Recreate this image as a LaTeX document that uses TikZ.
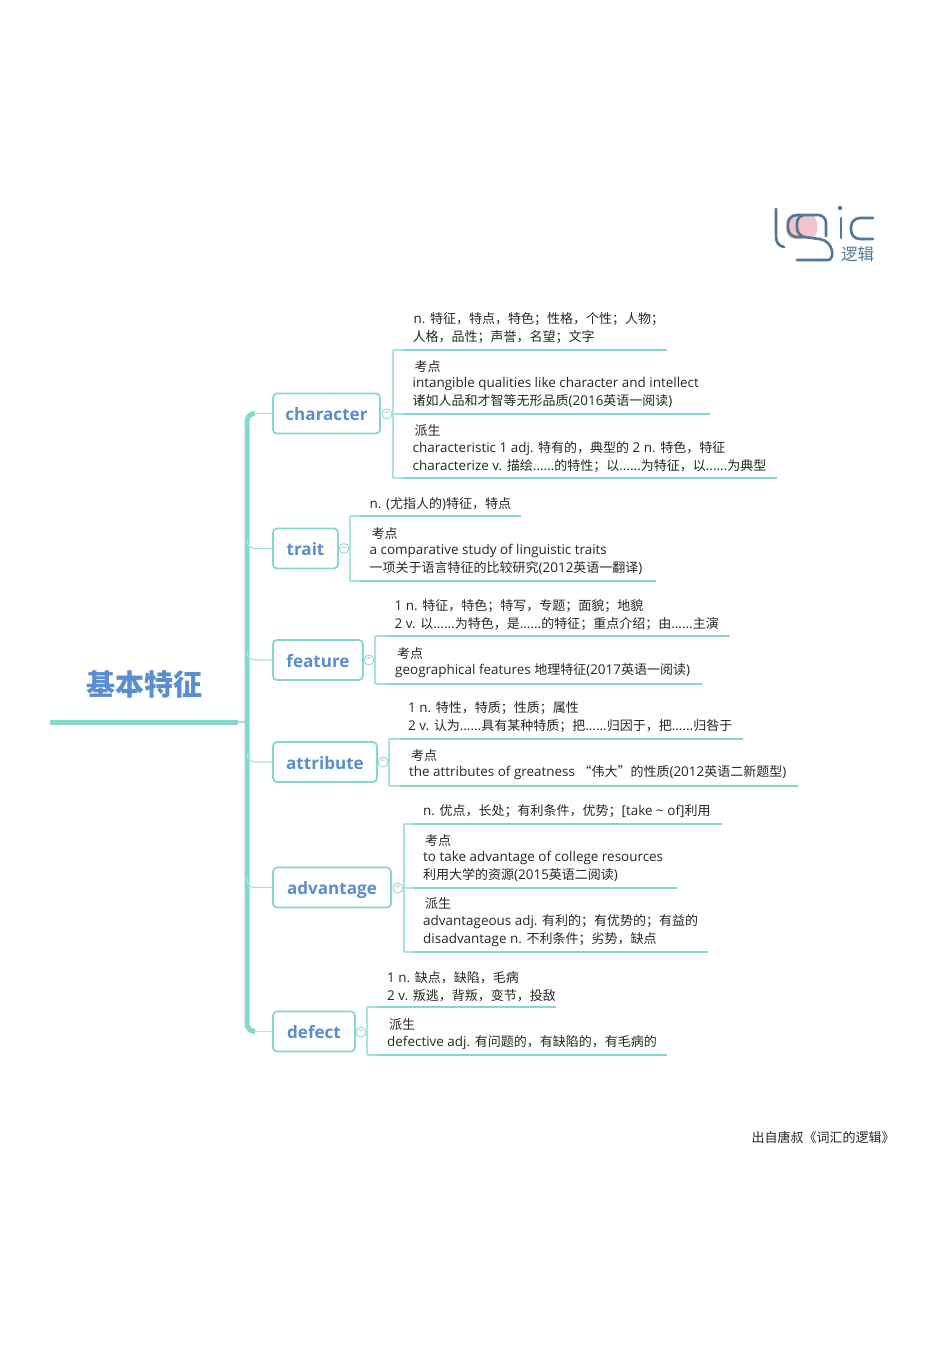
\documentclass[tikz,border=0pt]{standalone}
\usepackage{fontspec}
\setmainfont{Open Sans}[Scale=1.035]
\newfontfamily\zhfont{Noto Sans CJK SC}
\newcommand{\zh}[1]{{\zhfont #1}}
\usepackage{tikz}
\definecolor{tealline}{HTML}{86D8CF}
\definecolor{teallight}{HTML}{A8E3DC}
\definecolor{wordblue}{HTML}{5B8DD2}
\definecolor{logoblue}{HTML}{4F7898}
\definecolor{logopink}{HTML}{F2C4CB}
\definecolor{notegray}{HTML}{262626}
\tikzset{
    wordbox/.style={draw=tealline, line width=1.8pt, rounded corners=4pt, fill=white, minimum height=40pt, inner sep=0pt, text height=14pt, text depth=0pt, text=wordblue, font=\fontsize{16.5}{20}\selectfont\bfseries},
    notetext/.style={anchor=west, inner sep=0pt, align=left, text=notegray, font=\fontsize{13}{18}\selectfont},
    collapse/.style={circle, draw=tealline, line width=0.8pt, fill=white, minimum size=10pt, inner sep=0pt, text=gray, font=\fontsize{8}{8}\selectfont},
    spine/.style={draw=tealline, line width=5pt, rounded corners=8pt},
    branch/.style={draw=teallight, line width=1.2pt, rounded corners=8pt},
    bracketline/.style={draw=teallight, line width=1.4pt},
    noteline/.style={draw=tealline, line width=2pt},
    logostroke/.style={draw=logoblue, line width=2.6pt, line cap=round}
}
\begin{document}
\begin{tikzpicture}[x=1pt, y=-1pt]
    \useasboundingbox (0,0) rectangle (950,1345);

    % Logo
    \fill[logopink, rounded corners=9pt] (786,214) rectangle (817,239);
    \draw[logostroke] (776,209) -- (776,236) .. controls (776,243) and (779,246) .. (784,247);
    \draw[logostroke, rounded corners=9pt] (804,215) -- (788,215) -- (788,237) -- (803,237);
    \draw[logostroke, rounded corners=8pt] (826,236) -- (826,215) -- (797,215) -- (797,236) -- (812,238) .. controls (834,241) and (835,260) .. (820,260) -- (797,260);
    \draw[logostroke] (841,218) -- (841,238);
    \fill[logoblue] (840,208) circle (2.2pt);
    \draw[logostroke, rounded corners=9pt] (873,218) -- (851,218) -- (851,239) -- (873,239);
    \node[text=logoblue, inner sep=0pt, font=\zhfont\fontsize{16.5}{16}\selectfont] (logoText) at (857.5,254) {逻辑};

    % Title
    \node[text=wordblue, inner sep=0pt, font=\zhfont\fontsize{29}{30}\selectfont\bfseries] (title) at (144,684) {基本特征};
    \coordinate (titleL) at (50,722);
    \coordinate (titleR) at (238,722);
    \coordinate (spineMid) at (247,722);
    \draw[draw=tealline, line width=5pt] (titleL) -- (titleR);
    \draw[branch] (titleR) -- (spineMid);

    % Words
    \node[wordbox, minimum width=107pt] (character) at (326.5,413.5) {character};
    \node[wordbox, minimum width=65pt] (trait) at (305.5,548.5) {trait};
    \node[wordbox, minimum width=90pt] (feature) at (318,660) {feature};
    \node[wordbox, minimum width=104pt] (attribute) at (325,762) {attribute};
    \node[wordbox, minimum width=118pt] (advantage) at (332,887.5) {advantage};
    \node[wordbox, minimum width=82pt] (defect) at (314,1031.5) {defect};

    % Spine
    \draw[spine] (character.west) ++(-18,0) -- (247,413.5) -- (247,1031.5) -- ++(8,0);
    \draw[branch] (character.west) -- ++(-18,0);
    \draw[branch] (247,540) -- (247,548.5) -- (trait.west);
    \draw[branch] (247,651) -- (247,660) -- (feature.west);
    \draw[branch] (247,753) -- (247,762) -- (attribute.west);
    \draw[branch] (247,878) -- (247,887.5) -- (advantage.west);
    \draw[branch] (defect.west) -- ++(-18,0);

    % Collapse marks
    \node[collapse] (cCharacter) at (387,414) {−};
    \node[collapse] (cTrait) at (344,548.5) {−};
    \node[collapse] (cFeature) at (369,660) {−};
    \node[collapse] (cAttribute) at (383,762) {−};
    \node[collapse] (cAdvantage) at (398,888) {−};
    \node[collapse] (cDefect) at (361,1032) {−};
    \draw[bracketline] (cCharacter) -- (393,414);
    \draw[bracketline] (cTrait) -- (350,548.5);
    \draw[bracketline] (cFeature) -- (375,660);
    \draw[bracketline] (cAttribute) -- (389,762);
    \draw[bracketline] (cAdvantage) -- (404,888);
    \draw[bracketline] (cDefect) -- (367,1032);

    % Brackets
    \foreach \x/\ya/\yb in {393/350/478, 350/516/581, 375/636/684, 389/739/786, 404/824/952, 367/1007/1055} {
        \draw[bracketline] (\x,\ya) -- (\x,\yb);
    }
    % Rules under the notes
    \foreach \x/\y/\xb in {393/350/667, 393/414/710, 393/478/777, 350/516/521, 350/581/656, 375/636/730, 375/684/702, 389/739/743, 389/786/798, 404/824/722, 404/888/677, 404/952/708, 367/1007/556, 367/1055/667} {
        \draw[bracketline] (\x,\y) -- (\x+10,\y);
        \draw[noteline] (\x+10,\y) -- (\xb,\y);
    }

    % Notes: character
    \node[notetext] (chMean) at (412.5,328.5) {\hspace*{1pt}n. \zh{特征，特点，特色；性格，个性；人物；}\\\zh{人格，品性；声誉，名望；文字}};
    \node[notetext] (chExam) at (412.5,384) {\hspace*{2pt}\zh{考点}\\[-2pt]intangible qualities like character and intellect\\\zh{诸如人品和才智等无形品质}(2016\zh{英语一阅读})};
    \node[notetext] (chDeri) at (412.5,449) {\hspace*{2pt}\zh{派生}\\[-1pt]characteristic 1 adj. \zh{特有的，典型的} 2 n. \zh{特色，特征}\\characterize v. \zh{描绘}......\zh{的特性；以}......\zh{为特征，以}......\zh{为典型}};

    % Notes: trait
    \node[notetext] (trMean) at (369.5,504) {n. (\zh{尤指人的})\zh{特征，特点}};
    \node[notetext] (trExam) at (369.5,551) {\hspace*{2pt}\zh{考点}\\[-2pt]a comparative study of linguistic traits\\\zh{一项关于语言特征的比较研究}(2012\zh{英语一翻译})};

    % Notes: feature
    \node[notetext] (feMean) at (394.5,615.5) {1 n. \zh{特征，特色；特写，专题；面貌；地貌}\\2 v. \zh{以}......\zh{为特色，是}......\zh{的特征；重点介绍；由}......\zh{主演}};
    \node[notetext] (feExam) at (395,663) {\hspace*{2pt}\zh{考点}\\[-2pt]geographical features \zh{地理特征}(2017\zh{英语一阅读})};

    % Notes: attribute
    \node[notetext] (atMean) at (408,717.5) {1 n. \zh{特性，特质；性质；属性}\\2 v. \zh{认为}......\zh{具有某种特质；把}......\zh{归因于，把}......\zh{归咎于}};
    \node[notetext] (atExam) at (409,765) {\hspace*{2pt}\zh{考点}\\[-2pt]the attributes of greatness \zh{“伟大”的性质}(2012\zh{英语二新题型})};

    % Notes: advantage
    \node[notetext] (adMean) at (423,811.5) {n. \zh{优点，长处；有利条件，优势；}[take \textasciitilde{} of]\zh{利用}};
    \node[notetext] (adExam) at (423,858) {\hspace*{2pt}\zh{考点}\\[-2pt]to take advantage of college resources\\\zh{利用大学的资源}(2015\zh{英语二阅读})};
    \node[notetext] (adDeri) at (423,922.5) {\hspace*{2pt}\zh{派生}\\[-1pt]advantageous adj. \zh{有利的；有优势的；有益的}\\disadvantage n. \zh{不利条件；劣势，缺点}};

    % Notes: defect
    \node[notetext] (deMean) at (387,987) {1 n. \zh{缺点，缺陷，毛病}\\2 v. \zh{叛逃，背叛，变节，投敌}};
    \node[notetext] (deDeri) at (387,1034) {\hspace*{2pt}\zh{派生}\\[-1pt]defective adj. \zh{有问题的，有缺陷的，有毛病的}};

    \node[notetext] (source) at (751.5,1137) {\zh{出自唐叔《词汇的逻辑》}};
\end{tikzpicture}
\end{document}
